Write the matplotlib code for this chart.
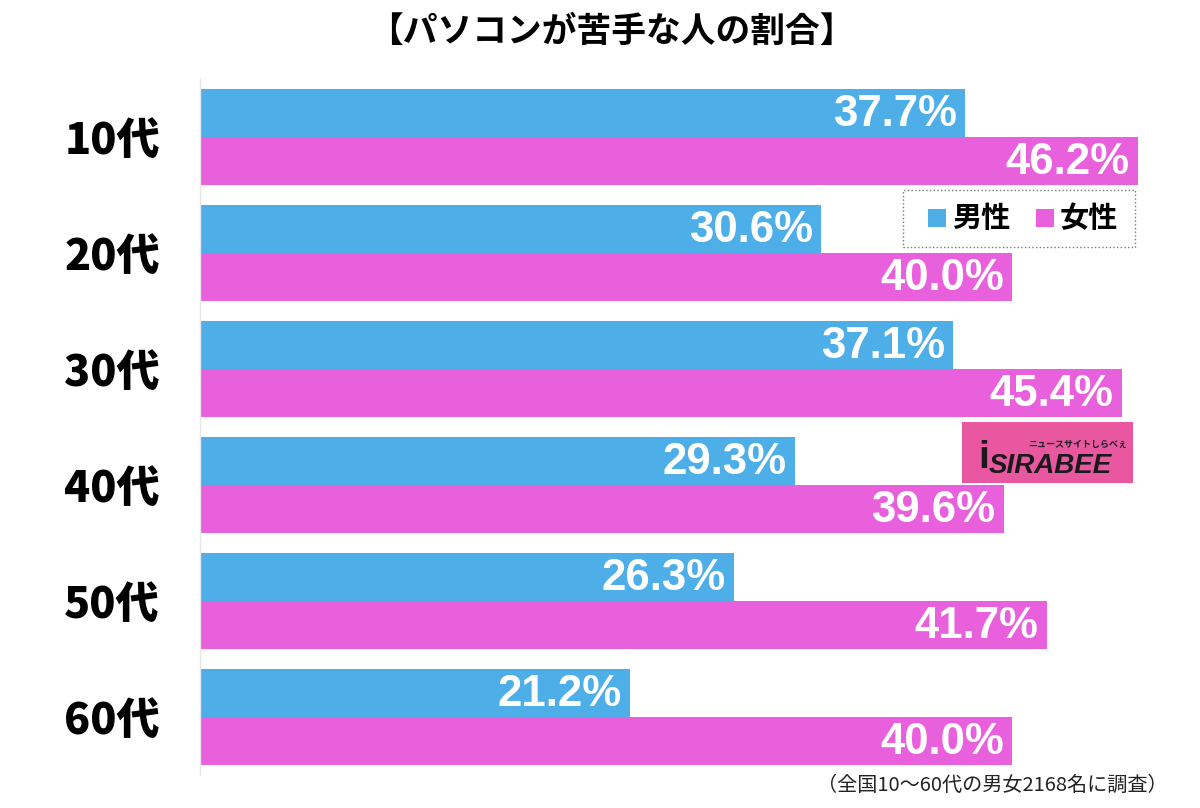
import matplotlib
matplotlib.use("Agg")
import matplotlib.pyplot as plt
from matplotlib.patches import Rectangle
import numpy as np

plt.rcParams['font.family'] = ['Noto Sans CJK JP', 'DejaVu Sans']

categories = ["10代", "20代", "30代", "40代", "50代", "60代"]
male = [37.7, 30.6, 37.1, 29.3, 26.3, 21.2]
female = [46.2, 40.0, 45.4, 39.6, 41.7, 40.0]
series_names = ["男性", "女性"]
title = "【パソコンが苦手な人の割合】"
footnote = "（全国10〜60代の男女2168名に調査）"

c_male = "#4daee8"
c_female = "#e960dc"

fig = plt.figure(figsize=(12, 8.08), dpi=100)
ax = fig.add_axes([200/1200, 1-775/808, 980/1200, (775-79)/808])

y = np.arange(len(categories))
h = 0.414
ax.barh(y - h/2, male, height=h, color=c_male, edgecolor='none')
ax.barh(y + h/2, female, height=h, color=c_female, edgecolor='none')

lab_font = ['Liberation Sans', 'DejaVu Sans']
for yi, v in zip(y, male):
    ax.annotate(f"{v:.1f}%", xy=(v, yi - h/2), xytext=(-6, -1), textcoords='offset points',
                ha='right', va='center', color='white', fontsize=31.5, fontweight='bold',
                family=lab_font)
for yi, v in zip(y, female):
    ax.annotate(f"{v:.1f}%", xy=(v, yi + h/2), xytext=(-6, -1), textcoords='offset points',
                ha='right', va='center', color='white', fontsize=31.5, fontweight='bold',
                family=lab_font)

ax.set_xlim(0, 980/20.3)
ax.set_ylim(5.5, -0.5)
ax.set_yticks(y)
ax.set_yticklabels(categories, fontsize=31, fontweight='black')
ax.tick_params(axis='y', length=0, pad=29)
ax.set_xticks([])
for s in ['top', 'right', 'bottom']:
    ax.spines[s].set_visible(False)
ax.spines['left'].set_color('#e6e6e6')
ax.spines['left'].set_linewidth(1)

fig.text(611/1200, 1-31/808, title, ha='center', va='center', fontsize=25, fontweight='bold')
fig.text(1168/1200, 1-785/808, footnote, ha='right', va='center', fontsize=14.5, color='#222222')

# legend
lx0, ly0, lx1, ly1 = 903/1200, 1-247/808, 1135/1200, 1-190/808
fig.patches.append(Rectangle((lx0, ly0), lx1-lx0, ly1-ly0, transform=fig.transFigure,
                             facecolor='white', edgecolor='#777777', linestyle=':', linewidth=1))
for xs, xt, col, name in [(928, 952, c_male, series_names[0]), (1036, 1060, c_female, series_names[1])]:
    fig.patches.append(Rectangle((xs/1200, 1-227/808), 18/1200, 18/808, transform=fig.transFigure,
                                 facecolor=col, edgecolor='none'))
    fig.text(xt/1200, 1-218/808, name, ha='left', va='center', fontsize=21, fontweight='bold')

# logo
fig.patches.append(Rectangle((962/1200, 1-483/808), 171/1200, 61/808, transform=fig.transFigure,
                             facecolor='#e8579f', edgecolor='none'))
fig.text(1050/1200, 1-466/808, "SIRABEE", ha='center', va='center', fontsize=20, fontweight='bold',
         color='#1a1a1a', style='italic', family=lab_font)
fig.text(1078/1200, 1-444/808, "ニュースサイトしらべぇ", ha='center', va='center', fontsize=6.5,
         fontweight='bold', color='#1a1a1a')
fig.text(984/1200, 1-458/808, "i", ha='center', va='center', fontsize=28, fontweight='bold',
         color='#1a1a1a', family=lab_font)

fig.savefig("out.png", dpi=100, facecolor='white')
